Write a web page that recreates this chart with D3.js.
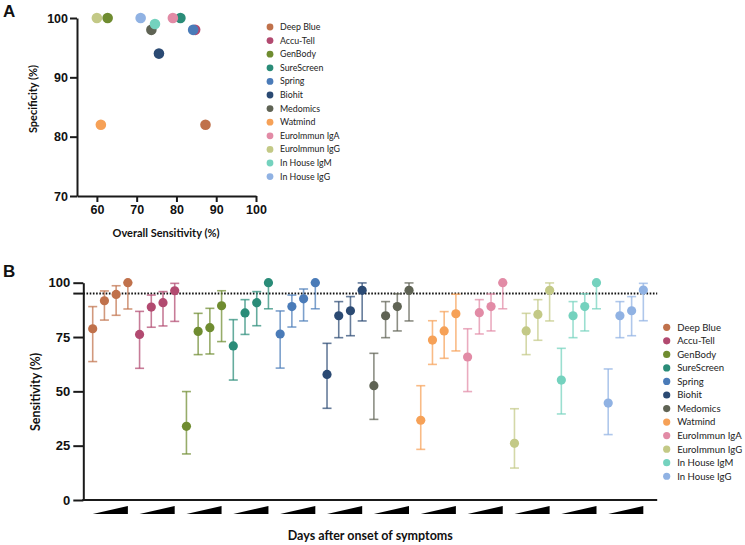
<!DOCTYPE html>
<html><head><meta charset="utf-8">
<script src="https://cdn.jsdelivr.net/npm/d3@7"></script>
<style>
html,body{margin:0;padding:0;background:#fff;}
svg{display:block;}
</style></head>
<body>
<svg id="chart" width="745" height="545"></svg>
<script>
// ---------- DATA ----------
const tests = ["Deep Blue","Accu-Tell","GenBody","SureScreen","Spring","Biohit","Medomics","Watmind","EuroImmun IgA","EuroImmun IgG","In House IgM","In House IgG"];
const colors = ["#c0714b","#b24a70","#6f8c30","#2a8c78","#4a7bb8","#2b4a73","#5f6354","#f6a157","#e28ba6","#c3c986","#74d2be","#90b2e3"];
// Panel A
const overallSensitivity = [87.3,84.7,62.7,81.0,84.2,75.6,73.7,61.0,79.1,60.0,74.6,71.0];
const specificity        = [82,  98,  100, 100, 98,  94,  98,  82,  100, 100, 99,  100];
const xTicksA = [60,70,80,90,100];
const yTicksA = [70,80,90,100];
// Panel B: four successive periods after symptom onset
const periods = ["P1","P2","P3","P4"];
const sensDeepBlue = [78.8,91.7,94.6,100], lowDeepBlue = [63.7,82.8,85.0,87.9], highDeepBlue = [89.0,96.2,98.6,100];
const sensAccuTell = [76.2,88.8,90.8,96.3], lowAccuTell = [60.6,79.5,80.1,82.2], highAccuTell = [86.8,94.3,95.9,99.7];
const sensGenBody  = [33.9,77.6,79.3,89.4], lowGenBody  = [21.2,66.9,67.2,72.9], highGenBody  = [49.9,85.9,88.2,96.3];
const sensSureScreen=[70.9,86.1,90.8,100],  lowSureScreen=[55.2,76.2,80.2,88.0], highSureScreen=[83.0,92.2,95.9,100];
const sensSpring   = [76.4,89.0,92.6,100],  lowSpring   = [60.7,79.6,82.4,88.0], highSpring   = [87.0,94.3,97.1,100];
const sensBiohit   = [57.8,84.8,87.1,96.5], lowBiohit   = [42.2,74.7,75.6,82.4], highBiohit   = [72.1,91.3,93.6,99.9];
const sensMedomics = [52.6,84.8,89.0,96.5], lowMedomics = [37.1,74.7,77.8,82.4], highMedomics = [67.5,91.3,94.9,99.9];
const sensWatmind  = [36.7,73.6,77.8,85.7], lowWatmind  = [23.3,62.4,65.2,68.6], highWatmind  = [52.6,82.5,86.7,94.7];
const sensIgA      = [65.8,86.2,89.0,100],  lowIgA      = [49.9,76.4,77.8,88.0], highIgA      = [78.8,92.2,94.8,100];
const sensIgG      = [26.1,77.8,85.4,96.5], lowIgG      = [14.7,66.9,73.5,82.4], highIgG      = [42.0,85.9,92.2,99.9];
const sensIHM      = [55.2,84.8,89.0,100],  lowIHM      = [39.6,74.7,77.8,88.0], highIHM      = [69.8,91.3,94.9,100];
const sensIHG      = [44.6,84.8,87.1,96.6], lowIHG      = [30.1,74.7,75.6,82.5], highIHG      = [60.3,91.3,93.6,99.7];
const yTicksB = [0,25,50,75,100];
const thresholdB = 95;

const sensB = [sensDeepBlue,sensAccuTell,sensGenBody,sensSureScreen,sensSpring,sensBiohit,sensMedomics,sensWatmind,sensIgA,sensIgG,sensIHM,sensIHG];
const lowB  = [lowDeepBlue,lowAccuTell,lowGenBody,lowSureScreen,lowSpring,lowBiohit,lowMedomics,lowWatmind,lowIgA,lowIgG,lowIHM,lowIHG];
const highB = [highDeepBlue,highAccuTell,highGenBody,highSureScreen,highSpring,highBiohit,highMedomics,highWatmind,highIgA,highIgG,highIHM,highIHG];

// ---------- DRAW ----------
const svg = d3.select("#chart");
const tickFont = "'Liberation Sans', Arial, sans-serif";
const titleFont = "Lato, 'Noto Sans', sans-serif";
const legendFont = "Lato, 'Noto Sans', sans-serif";
const color = d3.scaleOrdinal(tests, colors);

function styleAxis(g, fs, sw){
  g.select(".domain").attr("stroke","#1a1a1a").attr("stroke-width",sw);
  g.selectAll(".tick line").attr("stroke","#1a1a1a").attr("stroke-width",sw);
  g.selectAll(".tick text").attr("fill","#111").attr("font-family",tickFont).attr("font-weight","bold").attr("font-size",fs);
}
// uniform legend font size so the widest label fits a target width
function fitUniform(sel, maxW){
  let w = 0;
  sel.each(function(){ w = Math.max(w, this.getComputedTextLength()); });
  if (w > maxW){
    const fs = parseFloat(sel.attr("font-size"));
    sel.attr("font-size", (fs*maxW/w).toFixed(2));
  }
}

// ===== Panel A =====
const xA = d3.scaleLinear().domain([55,100]).range([77,256]);
const yA = d3.scaleLinear().domain([70,100]).range([196,18]);

svg.append("g").attr("transform","translate(0,196)")
  .call(d3.axisBottom(xA).tickValues(xTicksA).tickSize(6).tickPadding(3).tickSizeOuter(0))
  .call(g=>styleAxis(g,12.5,2));
svg.append("g").attr("transform","translate(77,0)")
  .call(d3.axisLeft(yA).tickValues(yTicksA).tickSize(7).tickPadding(2).tickSizeOuter(0))
  .call(g=>styleAxis(g,12.5,2));

svg.append("g").selectAll("circle").data(tests).join("circle")
  .attr("cx",(d,i)=>xA(overallSensitivity[i]))
  .attr("cy",(d,i)=>yA(specificity[i]))
  .attr("r",5.3)
  .attr("fill",d=>color(d));

svg.append("text").attr("x",166).attr("y",237).attr("text-anchor","middle")
  .attr("font-family",titleFont).attr("font-weight","bold").attr("font-size",11).attr("fill","#111")
  .text("Overall Sensitivity (%)");
svg.append("text").attr("transform","translate(37,99) rotate(-90)").attr("text-anchor","middle")
  .attr("font-family",titleFont).attr("font-weight","bold").attr("font-size",11).attr("fill","#111")
  .text("Specificity (%)");
svg.append("text").attr("x",3).attr("y",17)
  .attr("font-family",tickFont).attr("font-weight","bold").attr("font-size",17).attr("fill","#111").text("A");

const legA = svg.append("g").selectAll("g").data(tests).join("g")
  .attr("transform",(d,i)=>`translate(270,${27+i*13.6})`);
legA.append("circle").attr("r",3.4).attr("fill",d=>color(d));
legA.append("text").attr("x",10).attr("dy","0.35em")
  .attr("font-family",legendFont).attr("font-size",10).attr("fill","#222").text(d=>d)
  .call(s=>fitUniform(s,60));

// ===== Panel B =====
const axisLeftB = 83.3;
const yB = d3.scaleLinear().domain([0,100]).range([500,282.7]);
const xGroup = d3.scaleBand().domain(tests).range([86.85,649.2]).paddingInner(0).paddingOuter(0);
const xPer = d3.scalePoint().domain(periods).range([0,xGroup.bandwidth()]).padding(0.5);
const axisRightB = xGroup.range()[1] + 8;

// threshold dotted line
svg.append("line").attr("x1",axisLeftB).attr("x2",axisRightB)
  .attr("y1",yB(thresholdB)).attr("y2",yB(thresholdB))
  .attr("stroke","#111").attr("stroke-width",2).attr("stroke-dasharray","1.6,1.6");

// y axis
svg.append("g").attr("transform",`translate(${axisLeftB},0)`)
  .call(d3.axisLeft(yB).tickValues(yTicksB).tickSize(10).tickPadding(3).tickSizeOuter(0))
  .call(g=>styleAxis(g,13,2));
// tick at threshold
svg.append("line").attr("x1",axisLeftB-10).attr("x2",axisLeftB)
  .attr("y1",yB(thresholdB)).attr("y2",yB(thresholdB)).attr("stroke","#1a1a1a").attr("stroke-width",2);
// x axis line
svg.append("line").attr("x1",axisLeftB-1).attr("x2",axisRightB).attr("y1",yB(0)).attr("y2",yB(0))
  .attr("stroke","#1a1a1a").attr("stroke-width",2);

// triangles (increasing days) under each group
svg.append("g").selectAll("path").data(tests).join("path")
  .attr("d",d=>{
    const x0 = xGroup(d)+xPer(periods[0]), x1 = xGroup(d)+xPer(periods[periods.length-1]);
    const yb = yB(0)+14, yt = yB(0)+6;
    return `M${x0},${yb}L${x1},${yb}L${x1},${yt}Z`;
  }).attr("fill","#000");

// error bars and points
const pts = [];
tests.forEach((t,gi)=>periods.forEach((p,pi)=>pts.push({t,p,v:sensB[gi][pi],lo:lowB[gi][pi],hi:highB[gi][pi]})));
const px = d=>xGroup(d.t)+xPer(d.p);
const eb = svg.append("g").selectAll("g").data(pts).join("g")
  .attr("stroke",d=>color(d.t)).attr("stroke-width",1.6).attr("stroke-opacity",0.72);
eb.append("line").attr("x1",px).attr("x2",px).attr("y1",d=>yB(d.lo)).attr("y2",d=>yB(d.hi));
eb.append("line").attr("x1",d=>px(d)-4.5).attr("x2",d=>px(d)+4.5).attr("y1",d=>yB(d.lo)).attr("y2",d=>yB(d.lo));
eb.append("line").attr("x1",d=>px(d)-4.5).attr("x2",d=>px(d)+4.5).attr("y1",d=>yB(d.hi)).attr("y2",d=>yB(d.hi));
svg.append("g").selectAll("circle").data(pts).join("circle")
  .attr("cx",px).attr("cy",d=>yB(d.v)).attr("r",4.6).attr("fill",d=>color(d.t));

svg.append("text").attr("x",(axisLeftB+axisRightB)/2).attr("y",540).attr("text-anchor","middle")
  .attr("font-family",titleFont).attr("font-weight","bold").attr("font-size",12.5).attr("fill","#111")
  .text("Days after onset of symptoms");
svg.append("text").attr("transform","translate(40,392) rotate(-90)").attr("text-anchor","middle")
  .attr("font-family",titleFont).attr("font-weight","bold").attr("font-size",12.5).attr("fill","#111")
  .text("Sensitivity (%)");
svg.append("text").attr("x",3).attr("y",277)
  .attr("font-family",tickFont).attr("font-weight","bold").attr("font-size",17).attr("fill","#111").text("B");

const legB = svg.append("g").selectAll("g").data(tests).join("g")
  .attr("transform",(d,i)=>`translate(666.7,${327.3+i*13.54})`);
legB.append("circle").attr("r",3.6).attr("fill",d=>color(d));
legB.append("text").attr("x",10.5).attr("dy","0.35em")
  .attr("font-family",legendFont).attr("font-size",11).attr("fill","#222").text(d=>d)
  .call(s=>fitUniform(s,65));
</script>
</body></html>
